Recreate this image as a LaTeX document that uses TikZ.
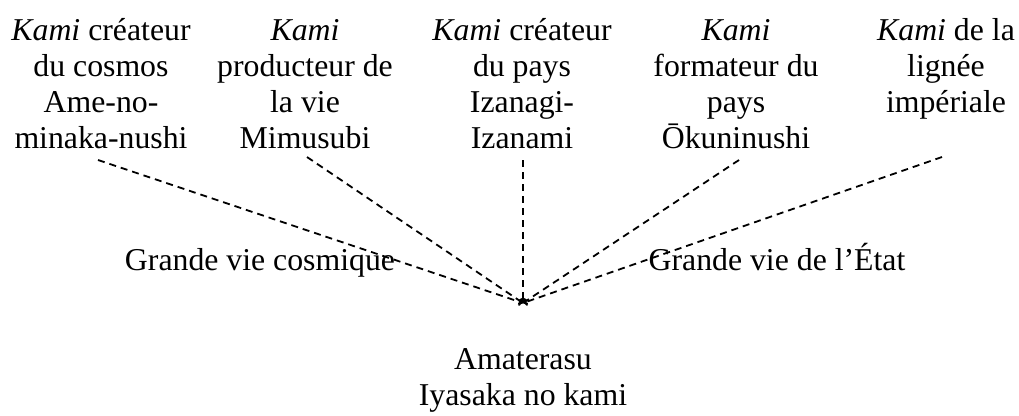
\documentclass[tikz,border=0pt]{standalone}
\usepackage{fontspec}
\setmainfont{Liberation Serif}
\usetikzlibrary{arrows.meta}
\tikzset{
  lbl/.style={inner sep=0pt, align=center, anchor=base, font=\fontsize{31.9}{36.1}\selectfont},
  dashlink/.style={line width=1.8bp, dash pattern=on 7bp off 5bp, -{To[length=4bp,width=8bp]}}
}
\begin{document}
\begin{tikzpicture}[x=1bp,y=-1bp]
\useasboundingbox (0,0) rectangle (1019,415);
\node[lbl] (k1) at (101,148) {\textit{Kami} créateur\\du cosmos\\Ame-no-\\minaka-nushi};
\node[lbl] (k2) at (305,148) {\textit{Kami}\\producteur de\\la vie\\Mimusubi};
\node[lbl] (k3) at (522,148) {\textit{Kami} créateur\\du pays\\Izanagi-\\Izanami};
\node[lbl] (k4) at (736,148) {\textit{Kami}\\formateur du\\pays\\Ōkuninushi};
\node[lbl] (k5) at (946,112) {\textit{Kami} de la\\lignée\\impériale};
\node[lbl] (g1) at (260,270) {Grande vie cosmique};
\node[lbl] (g2) at (777,270) {Grande vie de l’État};
\node[lbl] (am) at (523,405) {Amaterasu\\Iyasaka no kami};
\coordinate (f) at (523,303);
\coordinate (s1) at (98,160);
\coordinate (s2) at (307,157);
\coordinate (s3) at (523,160);
\coordinate (s4) at (739,160);
\coordinate (s5) at (942,157);
\foreach \i in {1,...,5} \draw[dashlink] (s\i) -- (f);
\end{tikzpicture}
\end{document}
